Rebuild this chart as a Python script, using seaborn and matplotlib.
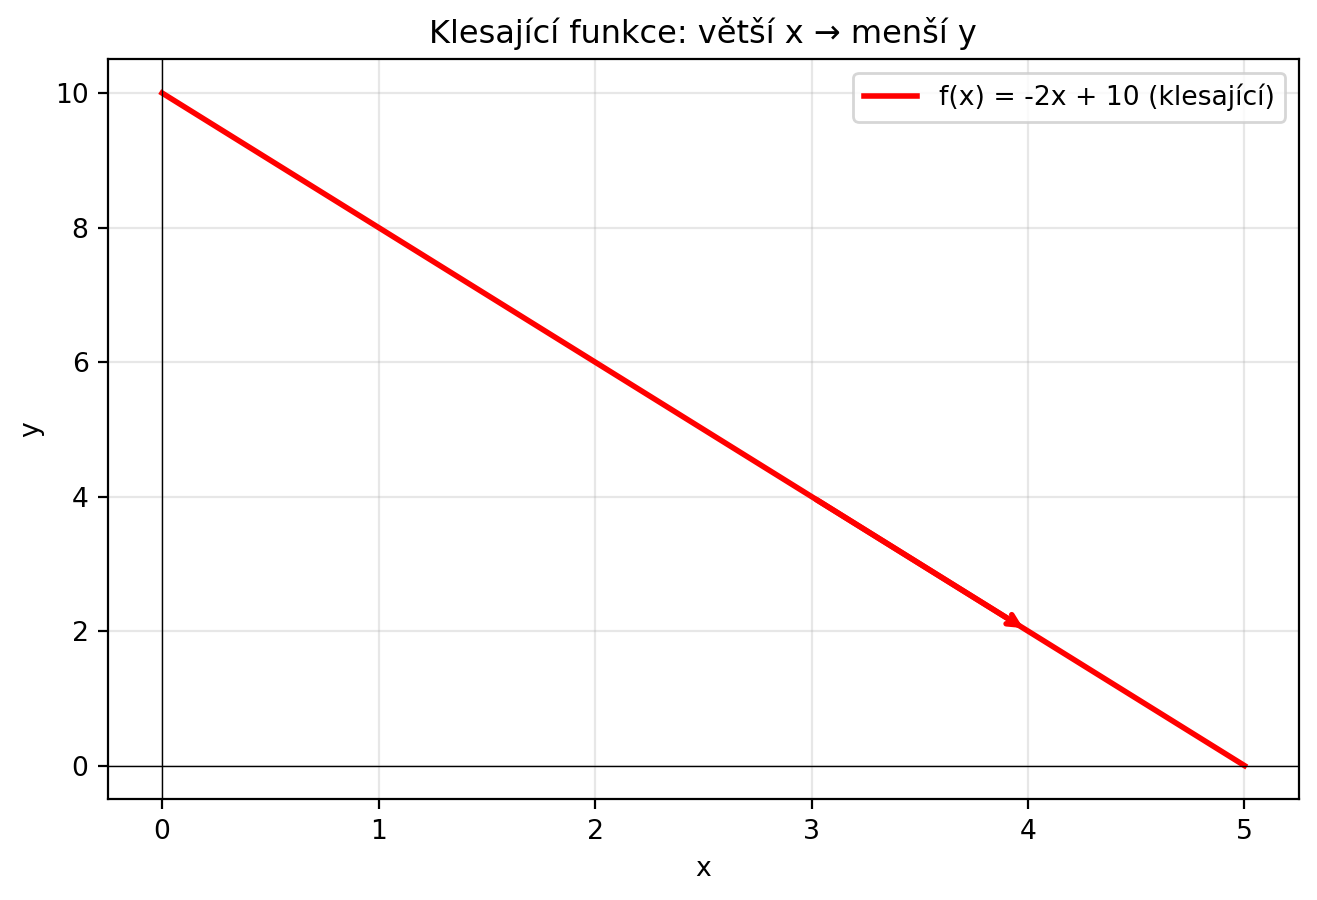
import matplotlib
matplotlib.use("Agg")
import matplotlib.pyplot as plt
import seaborn as sns
import pandas as pd

# data
x_vals = [0, 1, 2, 3, 4, 5]
y_vals = [10, 8, 6, 4, 2, 0]
series_label = "f(x) = -2x + 10 (klesající)"
arrow_from = (3, 4)
arrow_to = (4, 2)

plt.rcParams['font.family'] = ['DejaVu Sans']
plt.rcParams['font.size'] = 9.6

df = pd.DataFrame({"x": x_vals, "y": y_vals})

fig, ax = plt.subplots(figsize=(6.585, 4.5), dpi=200)
sns.lineplot(data=df, x="x", y="y", color="red", linewidth=2, label=series_label, ax=ax)

# arrow showing direction
ax.annotate("", xy=arrow_to, xytext=arrow_from,
            arrowprops=dict(arrowstyle="->", color="red", lw=2))

ax.axhline(0, color="black", linewidth=0.5)
ax.axvline(0, color="black", linewidth=0.5)
ax.grid(True, alpha=0.3)
ax.set_xlabel("x")
ax.set_ylabel("y")
ax.set_title("Klesající funkce: větší x → menší y")
ax.legend(loc="upper right")

fig.subplots_adjust(left=0.082, right=0.986, top=0.934, bottom=0.112)
fig.savefig("out.png", dpi=200)
